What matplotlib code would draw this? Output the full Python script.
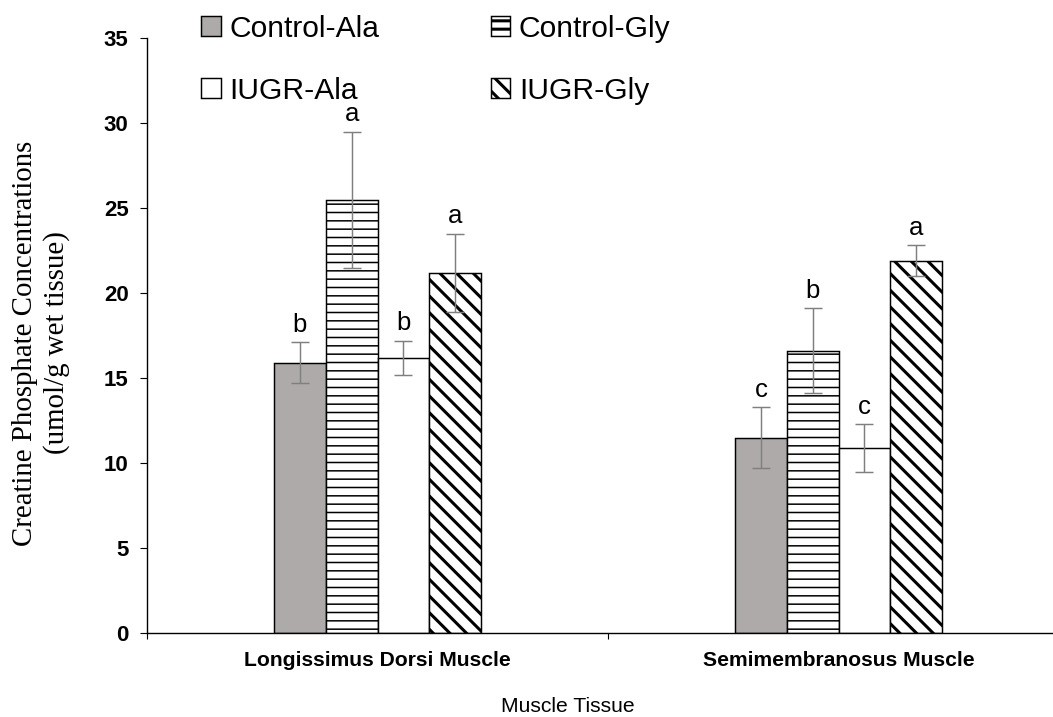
import matplotlib
matplotlib.use('Agg')
import numpy as np
import matplotlib.pyplot as plt

# data
muscles = ['Longissimus Dorsi Muscle', 'Semimembranosus Muscle']
groups = ['Control-Ala', 'Control-Gly', 'IUGR-Ala', 'IUGR-Gly']
means = {
    'Control-Ala': [15.9, 11.5],
    'Control-Gly': [25.5, 16.6],
    'IUGR-Ala': [16.2, 10.9],
    'IUGR-Gly': [21.2, 21.9],
}
errs = {
    'Control-Ala': [1.2, 1.8],
    'Control-Gly': [4.0, 2.5],
    'IUGR-Ala': [1.0, 1.4],
    'IUGR-Gly': [2.3, 0.9],
}
letters = {
    'Control-Ala': ['b', 'c'],
    'Control-Gly': ['a', 'b'],
    'IUGR-Ala': ['b', 'c'],
    'IUGR-Gly': ['a', 'a'],
}

styles = {
    'Control-Ala': dict(color='#aeaaaa', hatch=None, hlw=1.0),
    'Control-Gly': dict(color='white', hatch='--', hlw=1.1),
    'IUGR-Ala': dict(color='white', hatch=None, hlw=1.0),
    'IUGR-Gly': dict(color='white', hatch='\\\\', hlw=2.2),
}

DPI = 100
fig = plt.figure(figsize=(1053 / DPI, 717 / DPI), dpi=DPI)
ax = fig.add_axes([147 / 1053, 84 / 717, 922 / 1053, 595 / 717])

x = np.arange(len(muscles))
w = 0.1123
handles = {}
for i, g in enumerate(groups):
    st = styles[g]
    plt.rcParams['hatch.linewidth'] = st['hlw']
    pos = x + (i - 1.5) * w
    bars = ax.bar(pos, means[g], w, color=st['color'], edgecolor='black',
                  linewidth=1.05, hatch=st['hatch'], label=g, zorder=2)
    for p in bars:
        if hasattr(p, 'set_hatch_linewidth'):
            p.set_hatch_linewidth(st['hlw'])
    handles[g] = bars
    ax.errorbar(pos, means[g], yerr=errs[g], fmt='none', ecolor='#7f7f7f',
                elinewidth=1.05, capsize=6.4, capthick=1.05, zorder=3)
    for xp, m, e, t in zip(pos, means[g], errs[g], letters[g]):
        ax.text(xp, m + e + 0.3, t, ha='center', va='bottom', fontsize=18.5,
                family='Liberation Sans')

ax.set_xlim(-0.5, 1.5)
ax.set_ylim(0, 35)
ax.set_yticks(np.arange(0, 36, 5))
ax.set_xticks(x)
ax.set_xticklabels(muscles, fontsize=15.2, fontweight='bold', family='Liberation Sans')
ax.set_xticks([-0.5, 0.5, 1.5], minor=True)
ax.tick_params(axis='x', which='major', length=0, pad=13)
ax.tick_params(axis='x', which='minor', length=4, width=0.8, direction='out')
ax.tick_params(axis='y', length=4.8, width=0.8, direction='out', pad=8.5)
for lab in ax.get_yticklabels():
    lab.set_fontsize(16)
    lab.set_fontweight('bold')
    lab.set_family('Liberation Sans')
ax.spines['top'].set_visible(False)
ax.spines['right'].set_visible(False)
ax.spines['left'].set_linewidth(1.0)
ax.spines['bottom'].set_linewidth(1.0)

fig.text(568 / 1053, 1 - 706 / 717, 'Muscle Tissue', ha='center', va='center',
         fontsize=15.2, family='Liberation Sans')
fig.text(41 / 1053, 1 - 343 / 717,
         'Creatine Phosphate Concentrations\n(umol/g wet tissue)',
         rotation=90, ha='center', va='center', multialignment='center',
         fontsize=20.8, family='Liberation Serif', linespacing=1.2)

order = ['Control-Ala', 'IUGR-Ala', 'Control-Gly', 'IUGR-Gly']
fig.legend([handles[g] for g in order], order, loc='upper left',
           bbox_to_anchor=(186 / 1053, 1 - 0 / 717), ncol=2,
           frameon=False, prop={'family': 'Liberation Sans', 'size': 21.6},
           handlelength=0.65, handleheight=0.65, handletextpad=0.3,
           columnspacing=3.7, labelspacing=1.12, borderpad=0)

fig.savefig('out.png', dpi=DPI)
